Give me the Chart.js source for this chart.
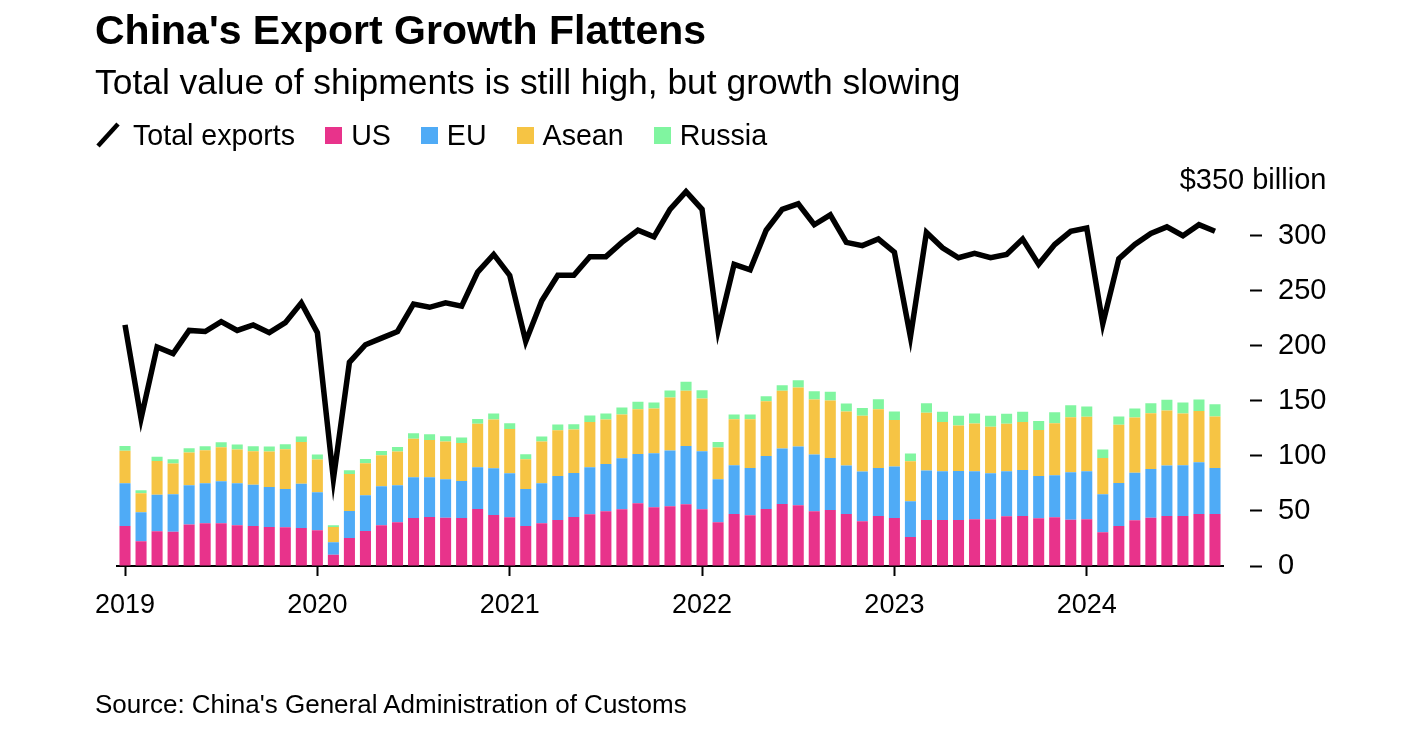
<!DOCTYPE html>
<html>
<head>
<meta charset="utf-8">
<script src="https://cdn.jsdelivr.net/npm/chart.js@4.4.1/dist/chart.umd.min.js"></script>
<style>
html,body{margin:0;padding:0;background:#fff;}
#wrap{position:relative;width:1420px;height:741px;font-family:'Liberation Sans',Arial,Helvetica,sans-serif;color:#000;overflow:hidden;}
#c{position:absolute;left:0;top:0;}
#legend{position:absolute;left:96px;top:120px;height:30px;display:flex;align-items:center;font-size:28.6px;line-height:30px;white-space:nowrap;}
.item{display:flex;align-items:center;margin-right:30px;}
.sw{display:inline-block;width:17px;height:17px;margin-right:9px;}
.ln{display:inline-block;width:24px;height:26px;margin-right:13px;}
#source{position:absolute;left:95px;top:689px;font-size:26px;line-height:30px;white-space:nowrap;}
</style>
</head>
<body>
<div id="wrap">
  <canvas id="c" width="1420" height="741"></canvas>
  <div id="legend"></div>
  <div id="source">Source: China's General Administration of Customs</div>
</div>
<script>
// ---- Data (US$ billion, monthly Jan 2019 - Sep 2024) ----
const months = [
  'Jan 2019','Feb 2019','Mar 2019','Apr 2019','May 2019','Jun 2019','Jul 2019','Aug 2019','Sep 2019','Oct 2019','Nov 2019','Dec 2019',
  'Jan 2020','Feb 2020','Mar 2020','Apr 2020','May 2020','Jun 2020','Jul 2020','Aug 2020','Sep 2020','Oct 2020','Nov 2020','Dec 2020',
  'Jan 2021','Feb 2021','Mar 2021','Apr 2021','May 2021','Jun 2021','Jul 2021','Aug 2021','Sep 2021','Oct 2021','Nov 2021','Dec 2021',
  'Jan 2022','Feb 2022','Mar 2022','Apr 2022','May 2022','Jun 2022','Jul 2022','Aug 2022','Sep 2022','Oct 2022','Nov 2022','Dec 2022',
  'Jan 2023','Feb 2023','Mar 2023','Apr 2023','May 2023','Jun 2023','Jul 2023','Aug 2023','Sep 2023','Oct 2023','Nov 2023','Dec 2023',
  'Jan 2024','Feb 2024','Mar 2024','Apr 2024','May 2024','Jun 2024','Jul 2024','Aug 2024','Sep 2024'
];
const yearLabels = ['2019','2020','2021','2022','2023','2024'];
const yTickValues = [0,50,100,150,200,250,300,350];
const unitLabel = '$350 billion';

const totalExports = [
  219,134,199,193,214,213,222,214,219,212,221,239,
  212,79,185,201,207,213,238,235,239,236,267,283,
  264,204,241,264,264,281,281,294,305,299,324,340,
  324,214,274,269,305,324,329,310,319,294,291,297,
  285,208,303,289,280,284,280,283,297,274,292,304,
  307,220,279,292,302,308,300,310,304
];
const us = [
  36.4,22.4,31.5,31.2,37.6,38.8,38.8,37.0,36.4,35.5,35.2,34.5,
  32.4,10.3,25.5,31.8,37.0,39.7,43.6,44.5,43.9,43.6,51.8,46.4,
  44.2,36.4,38.8,41.8,44.5,47.0,49.7,51.5,57.0,53.3,54.2,56.1,
  51.5,39.7,47.3,46.1,51.8,56.4,55.2,49.7,50.9,47.3,40.6,45.5,
  43.6,26.4,41.8,41.8,41.8,42.4,42.4,45.2,45.5,43.3,44.2,42.1,
  42.4,30.6,36.4,41.5,43.9,45.5,45.5,47.3,47.3
];
const eu = [
  38.8,26.4,33.3,33.9,35.8,36.4,38.2,38.2,37.5,36.3,34.8,40.3,
  34.6,11.2,24.5,32.4,35.4,33.6,37.0,36.1,34.9,33.7,37.9,42.4,
  40.0,33.6,36.4,40.0,40.0,42.7,43.0,46.4,44.8,49.1,50.6,53.0,
  52.7,39.1,44.2,43.0,48.2,50.3,53.3,51.5,47.3,43.9,45.2,43.6,
  46.7,32.4,44.9,44.3,44.6,43.7,41.8,40.9,41.8,38.5,38.2,43.1,
  43.7,34.6,39.1,43.3,44.3,45.7,46.0,46.9,41.8
];
const asean = [
  29.4,17.3,30.6,27.9,29.7,30.0,30.9,30.6,30.3,32.1,36.1,37.9,
  29.7,14.0,33.6,29.1,28.2,30.6,34.9,33.9,34.2,34.5,39.4,44.2,
  40.3,27.0,37.8,41.5,39.4,41.2,40.3,39.7,40.6,40.6,48.2,50.0,
  47.9,28.8,41.8,44.2,49.7,52.4,53.6,50.0,52.1,49.1,50.6,53.3,
  42.4,36.4,52.4,44.8,41.2,43.3,42.2,43.0,43.6,41.8,47.3,50.0,
  49.4,33.0,52.7,50.0,50.6,50.0,47.0,46.7,46.7
];
const russia = [
  4.5,2.7,3.9,3.9,3.9,3.6,4.5,4.5,4.6,4.6,4.5,4.9,
  4.5,1.5,3.4,4.0,3.9,4.3,5.1,5.2,4.9,4.9,4.5,5.5,
  5.2,4.5,4.6,5.2,4.9,5.8,5.5,6.3,6.7,5.5,6.4,8.2,
  7.6,5.1,4.3,4.3,4.5,5.1,6.7,7.6,7.9,7.3,7.2,9.1,
  7.6,6.9,8.8,9.1,8.8,9.1,10.0,9.1,9.1,8.2,10.0,10.9,
  9.3,7.6,7.6,8.2,9.1,9.7,10.0,10.3,11.2
];

// ---- Styles ----
const FONT = "'Liberation Sans', Arial, Helvetica, sans-serif";
const COLORS = { total:'#000000', us:'#E8338B', eu:'#4FABF6', asean:'#F6C444', russia:'#80F5A0' };
const Y_FONT_SIZE = 29;

Chart.defaults.font.family = FONT;
Chart.defaults.color = '#000';

const unitLabelPlugin = {
  id: 'unitLabel',
  afterDraw(chart) {
    const ys = chart.scales.y;
    const c = chart.ctx;
    c.save();
    c.font = Y_FONT_SIZE + 'px ' + FONT;
    c.fillStyle = '#000';
    const labelLeft = ys.left + ys.options.grid.tickLength + ys.options.ticks.padding;
    const refW = c.measureText(String(yTickValues[yTickValues.length - 2])).width;
    c.textAlign = 'right';
    c.textBaseline = 'middle';
    c.fillText(unitLabel, labelLeft + refW, ys.getPixelForValue(yTickValues[yTickValues.length - 1]));
    c.restore();
  }
};

const chart = new Chart(document.getElementById('c'), {
  type: 'bar',
  data: {
    labels: months,
    datasets: [
      { type:'line', label:'Total exports', data: totalExports, borderColor: COLORS.total, backgroundColor: COLORS.total,
        borderWidth: 5.5, pointRadius: 0, pointHoverRadius: 0, tension: 0, borderJoinStyle: 'miter', borderCapStyle: 'butt',
        stack: 'total', order: 0, yAxisID: 'y' },
      { label:'US', data: us, backgroundColor: COLORS.us, stack:'regions', order: 1, yAxisID: 'y' },
      { label:'EU', data: eu, backgroundColor: COLORS.eu, stack:'regions', order: 1, yAxisID: 'y' },
      { label:'Asean', data: asean, backgroundColor: COLORS.asean, stack:'regions', order: 1, yAxisID: 'y' },
      { label:'Russia', data: russia, backgroundColor: COLORS.russia, stack:'regions', order: 1, yAxisID: 'y' }
    ]
  },
  options: {
    responsive: false,
    animation: false,
    devicePixelRatio: 1,
    layout: { padding: { left: 95, right: 0, top: 0, bottom: 120 } },
    datasets: { bar: { categoryPercentage: 1, barPercentage: 0.69, borderWidth: 0 } },
    plugins: {
      legend: { display: false },
      tooltip: { enabled: false },
      title: { display: true, text: "China's Export Growth Flattens", align: 'start', color: '#000',
               font: { size: 41, weight: 'bold', family: FONT }, padding: { top: 8, bottom: 0 } },
      subtitle: { display: true, text: 'Total value of shipments is still high, but growth slowing', align: 'start', color: '#000',
               font: { size: 35.4, family: FONT }, padding: { top: 6, bottom: 75 } }
    },
    scales: {
      x: {
        stacked: true,
        offset: true,
        grid: { display: true, drawOnChartArea: false, offset: false, tickLength: 10, tickWidth: 2,
                tickColor: (c) => (c.index % 12 === 0 ? '#000' : 'rgba(0,0,0,0)') },
        border: { display: true, color: '#000', width: 2 },
        ticks: { autoSkip: false, maxRotation: 0, minRotation: 0, padding: 13, color: '#000',
                 font: { size: 27, family: FONT },
                 callback: (v, i) => (i % 12 === 0 ? yearLabels[i / 12] : '') },
        afterFit: (s) => { s.height = 55; }
      },
      y: {
        stacked: true,
        position: 'right',
        min: 0, max: 350,
        afterBuildTicks: (s) => { s.ticks = yTickValues.map(v => ({ value: v })); },
        ticks: { padding: 16, color: '#000', font: { size: Y_FONT_SIZE, family: FONT },
                 callback: (v) => (v === yTickValues[yTickValues.length - 1] ? '' : String(v)) },
        grid: { display: true, drawOnChartArea: false, tickLength: 39, tickWidth: 2,
                tickColor: (c) => (c.tick && c.tick.value === 350 ? 'rgba(0,0,0,0)' : '#000'),
                tickBorderDash: [0, 27, 12, 100] },
        border: { display: false },
        afterFit: (s) => { s.width = 197; }
      },
      yPad: {
        type: 'linear', axis: 'y', position: 'left', display: true,
        grid: { display: false }, border: { display: false }, ticks: { display: false },
        afterFit: (s) => { s.width = 22; }
      }
    }
  },
  plugins: [unitLabelPlugin]
});

// ---- HTML legend built from the chart's datasets ----
const legendEl = document.getElementById('legend');
chart.data.datasets.forEach((ds) => {
  const item = document.createElement('div');
  item.className = 'item';
  let mark;
  if (ds.type === 'line') {
    mark = document.createElementNS('http://www.w3.org/2000/svg', 'svg');
    mark.setAttribute('class', 'ln');
    mark.setAttribute('viewBox', '0 0 24 26');
    const l = document.createElementNS('http://www.w3.org/2000/svg', 'line');
    l.setAttribute('x1', '2'); l.setAttribute('y1', '24');
    l.setAttribute('x2', '22'); l.setAttribute('y2', '2');
    l.setAttribute('stroke', ds.borderColor); l.setAttribute('stroke-width', '4.5');
    mark.appendChild(l);
  } else {
    mark = document.createElement('span');
    mark.className = 'sw';
    mark.style.background = ds.backgroundColor;
  }
  const txt = document.createElement('span');
  txt.textContent = ds.label;
  item.appendChild(mark);
  item.appendChild(txt);
  legendEl.appendChild(item);
});
</script>
</body>
</html>
